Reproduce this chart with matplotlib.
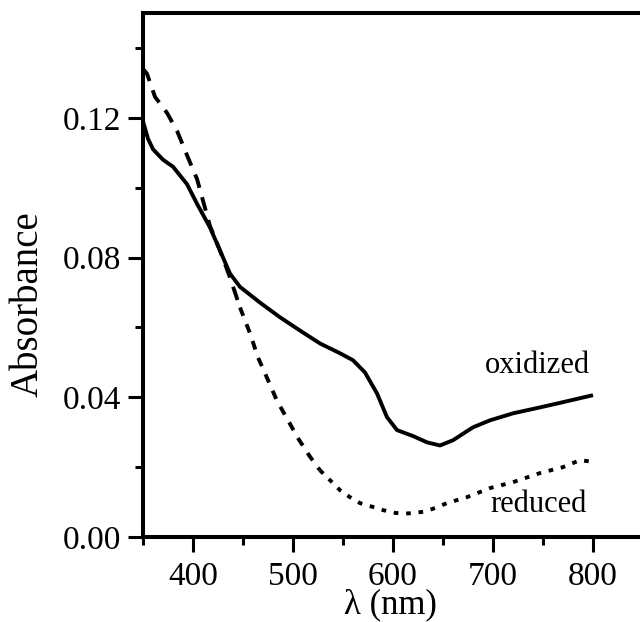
import numpy as np
import matplotlib
matplotlib.use('Agg')
import matplotlib.pyplot as plt
from matplotlib.ticker import MultipleLocator

# data
ox_wl = [350, 355, 360, 370, 380, 394, 404, 417, 427, 437, 447, 467, 487, 507,
         527, 547, 560, 572, 584, 594, 604, 620, 634, 647, 660, 680, 697, 720,
         747, 770, 800]
ox_abs = [0.119, 0.114, 0.111, 0.108, 0.106, 0.101, 0.0954, 0.0886, 0.082,
          0.0754, 0.0716, 0.0671, 0.0629, 0.0591, 0.0554, 0.0526, 0.0506,
          0.0471, 0.0411, 0.0343, 0.0306, 0.0289, 0.0271, 0.0262, 0.0277,
          0.0314, 0.0334, 0.0354, 0.0371, 0.0386, 0.0406]

red_wl = [350, 354, 362, 374, 384, 395, 404, 417, 427, 437, 447, 457, 465, 475,
          484, 495, 505, 516, 527, 539, 547, 557, 567, 580, 590, 602, 612, 622,
          632, 642, 654, 674, 697, 720, 747, 770, 787, 800]
red_abs = [0.134, 0.1326, 0.126, 0.1214, 0.1163, 0.1086, 0.1025, 0.089, 0.082,
           0.0743, 0.0657, 0.0583, 0.0514, 0.0449, 0.039, 0.0334, 0.0283,
           0.0234, 0.0191, 0.0157, 0.0134, 0.0114, 0.0097, 0.0086, 0.0077,
           0.0069, 0.0067, 0.0069, 0.0073, 0.0083, 0.0097, 0.0114, 0.014,
           0.0157, 0.0183, 0.02, 0.022, 0.0215]

plt.rcParams['font.family'] = ['Liberation Serif', 'DejaVu Serif']

fig = plt.figure(figsize=(6.4, 6.22), dpi=100)
ax = fig.add_axes([143/640, 85/622, 500/640, 524/622])

lw = 2.8
ax.plot(ox_wl, ox_abs, color='black', lw=lw, solid_capstyle='butt')

# dashes get shorter towards the red end, like the scanned trace
red_wl = np.array(red_wl)
red_abs = np.array(red_abs)
segs = [(350, 447, (3.6, 2.5)), (447, 527, (2.3, 2.3)), (527, 800, (1.2, 2.0))]
for lo, hi, dash in segs:
    m = (red_wl >= lo) & (red_wl <= hi)
    ax.plot(red_wl[m], red_abs[m], color='black', lw=lw, dashes=dash,
            dash_capstyle='butt')

ax.text(797, 0.0469, 'oxidized', ha='right', va='baseline', fontsize=22)
ax.text(794, 0.0071, 'reduced', ha='right', va='baseline', fontsize=22)

ax.set_xlim(350, 850)
ax.set_ylim(0, 0.15)
ax.xaxis.set_minor_locator(MultipleLocator(50))
ax.yaxis.set_minor_locator(MultipleLocator(0.02))
ax.set_xticks([400, 500, 600, 700, 800])
ax.set_yticks([0.0, 0.04, 0.08, 0.12])
ax.set_yticklabels(['0.00', '0.04', '0.08', '0.12'])

for s in ax.spines.values():
    s.set_linewidth(2.9)
ax.tick_params(which='major', direction='out', length=10.5, width=2.2,
               labelsize=24, pad=5)
ax.tick_params(axis='x', which='major', pad=7)
ax.tick_params(which='minor', direction='out', length=5.5, width=2.2)

# axis titles placed where they sit in the reference
fig.text(390/640, 0.001, 'λ (nm)', ha='center', va='bottom', fontsize=25)
fig.text(28/640, 1 - 304/622, 'Absorbance', rotation=90, ha='center',
         va='center', fontsize=28)

fig.savefig('out.png', dpi=100)
